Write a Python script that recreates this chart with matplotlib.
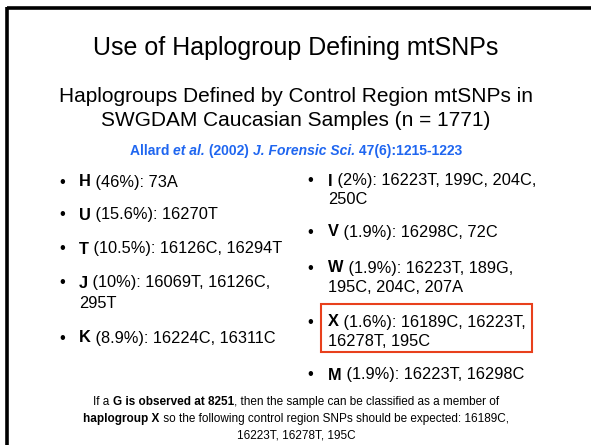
import matplotlib
matplotlib.use("Agg")
import matplotlib.pyplot as plt
from matplotlib.patches import Rectangle

plt.rcParams['font.family'] = ['Liberation Sans', 'DejaVu Sans']

# Slide text
titulo = "Use of Haplogroup Defining mtSNPs"
subtitulo = ["Haplogroups Defined by Control Region mtSNPs in",
             "SWGDAM Caucasian Samples (n = 1771)"]
citacao = [("Allard ", "normal"), ("et al.", "italic"), (" (2002) ", "normal"),
           ("J. Forensic Sci.", "italic"), (" 47(6):1215-1223", "normal")]

grupos_esq = ["H", "U", "T", "J", "K"]
snps_esq = [["(46%): 73A"],
            ["(15.6%): 16270T"],
            ["(10.5%): 16126C, 16294T"],
            ["(10%): 16069T, 16126C,", "295T"],
            ["(8.9%): 16224C, 16311C"]]
y_esq = [182, 215, 249, 283, 338]

grupos_dir = ["I", "V", "W", "X", "M"]
snps_dir = [["(2%): 16223T, 199C, 204C,", "250C"],
            ["(1.9%): 16298C, 72C"],
            ["(1.9%): 16223T, 189G,", "195C, 204C, 207A"],
            ["(1.6%): 16189C, 16223T,", "16278T, 195C"],
            ["(1.9%): 16223T, 16298C"]]
y_dir = [181, 232, 268, 322, 375]

nota = [[("If a ", "normal"), ("G is observed at 8251", "bold"),
         (", then the sample can be classified as a member of", "normal")],
        [("haplogroup X", "bold"),
         (" so the following control region SNPs should be expected: 16189C,", "normal")],
        [("16223T, 16278T, 195C", "normal")]]
y_nota = [402, 419, 435]

fig = plt.figure(figsize=(5.91, 4.45), dpi=100)
ax = fig.add_axes([0, 0, 1, 1])
ax.set_xlim(0, 591)
ax.set_ylim(445, 0)
ax.axis('off')
renderer = fig.canvas.get_renderer()


def escreve(x, y, partes, size, ha='left', color='black'):
    # draws runs of text with different weights/styles on one line
    textos = []
    for s, w, st in partes:
        t = ax.text(0, y, s, fontsize=size, fontweight=w, fontstyle=st,
                    va='center', ha='left', color=color)
        textos.append(t)
    larg = [t.get_window_extent(renderer).width for t in textos]
    total = sum(larg)
    if ha == 'center':
        x = x - total / 2
    for t, w in zip(textos, larg):
        t.set_x(x)
        x += w


# frame of the slide
ax.plot([7, 591], [8, 8], color='black', lw=2.6, solid_capstyle='butt')
ax.plot([7, 7], [7, 445], color='black', lw=2.6, solid_capstyle='butt')

ax.text(296, 48, titulo, fontsize=18, ha='center', va='center')
ax.text(296, 97, subtitulo[0], fontsize=15, ha='center', va='center')
ax.text(296, 120, subtitulo[1], fontsize=15, ha='center', va='center')

escreve(296, 151, [(s, 'bold', st) for s, st in citacao], 10, ha='center', color='#1f66f0')

tam = 11.8
for g, linhas, y in zip(grupos_esq, snps_esq, y_esq):
    ax.text(59, y, "\u2022", fontsize=tam, va='center')
    escreve(79, y, [(g, 'bold', 'normal'), (" " + linhas[0], 'normal', 'normal')], tam)
    for k, l in enumerate(linhas[1:]):
        ax.text(79, y + 20 * (k + 1), l, fontsize=tam, va='center')

for g, linhas, y in zip(grupos_dir, snps_dir, y_dir):
    ax.text(307, y, "\u2022", fontsize=tam, va='center')
    escreve(328, y, [(g, 'bold', 'normal'), (" " + linhas[0], 'normal', 'normal')], tam)
    for k, l in enumerate(linhas[1:]):
        ax.text(328, y + 19 * (k + 1), l, fontsize=tam, va='center')

# highlight box around haplogroup X
ax.add_patch(Rectangle((321, 304), 211, 48, fill=False, edgecolor='#e8401c', lw=1.5))

for partes, y in zip(nota, y_nota):
    escreve(296, y, [(s, w, 'normal') for s, w in partes], 8.5, ha='center')

fig.savefig("out.png", dpi=100)
